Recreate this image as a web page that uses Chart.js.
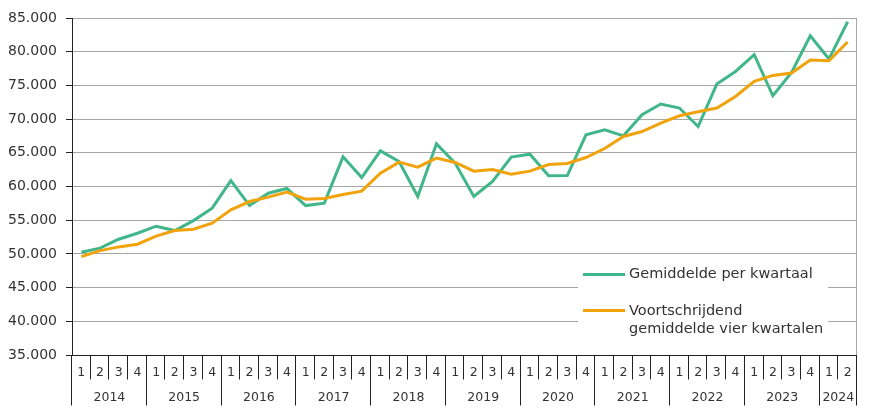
<!DOCTYPE html>
<html>
<head>
<meta charset="utf-8">
<script src="https://cdn.jsdelivr.net/npm/chart.js@4/dist/chart.umd.min.js"></script>
<style>
html,body{margin:0;padding:0;background:#fff;}
#wrap{width:886px;height:413px;position:relative;}
</style>
</head>
<body>
<div id="wrap"><canvas id="c" width="886" height="413"></canvas></div>
<script>
const years = ['2014','2015','2016','2017','2018','2019','2020','2021','2022','2023','2024'];
const quarters = ['1','2','3','4','1','2','3','4','1','2','3','4','1','2','3','4','1','2','3','4','1','2','3','4','1','2','3','4','1','2','3','4','1','2','3','4','1','2','3','4','1','2'];
const categories = quarters.map((q, i) => years[Math.floor(i / 4)] + ' Q' + q);
const gemiddeldePerKwartaal = [50250,50850,52180,53070,54110,53460,54940,56790,60880,57170,59010,59700,57170,57530,64400,61330,65290,63700,58510,66330,63470,58510,60740,64360,64800,61580,61630,67670,68410,67520,70640,72230,71640,68900,75200,77070,79550,73460,76920,82370,78910,84450];
const voortschrijdendGemiddelde = [49600,50490,51040,51440,52630,53460,53670,54560,56530,57770,58420,59160,58120,58220,58800,59310,61980,63620,62870,64210,63560,62280,62530,61830,62280,63260,63410,64300,65640,67420,68160,69410,70490,71090,71640,73360,75590,76480,76830,78760,78660,81440];
const yTicks = [35000,40000,45000,50000,55000,60000,65000,70000,75000,80000,85000];
const legendLabels = ['Gemiddelde per kwartaal', ['Voortschrijdend', 'gemiddelde vier kwartalen']];

const GREEN = '#41b68a';
const ORANGE = '#f0a30a';
const FONT = '"DejaVu Sans", Verdana, sans-serif';

const customDraw = {
  id: 'customDraw',
  afterDatasetsDraw(chart) {
    const ctx = chart.ctx;
    const xs = chart.scales.x;
    const area = chart.chartArea;
    ctx.save();
    // right border
    ctx.strokeStyle = '#a6a6a6';
    ctx.lineWidth = 1;
    ctx.beginPath();
    ctx.moveTo(Math.round(area.right) - 0.5, area.top);
    ctx.lineTo(Math.round(area.right) - 0.5, area.bottom);
    ctx.stroke();

    // x axis line
    const yb = Math.round(area.bottom) + 0.5;
    ctx.strokeStyle = '#222';
    ctx.beginPath();
    ctx.moveTo(area.left, yb);
    ctx.lineTo(area.right, yb);
    ctx.stroke();

    const n = categories.length;
    const step = (xs.getPixelForValue(1) - xs.getPixelForValue(0));
    ctx.fillStyle = '#333';
    ctx.font = '12.5px ' + FONT;
    ctx.textAlign = 'center';
    ctx.textBaseline = 'middle';
    for (let i = 0; i <= n; i++) {
      const x = Math.round(xs.getPixelForValue(0) - step / 2 + i * step) - 0.5;
      const isYear = (i % 4 === 0) || i === n;
      ctx.beginPath();
      ctx.moveTo(x, yb);
      ctx.lineTo(x, isYear ? yb + 50 : yb + 24);
      ctx.stroke();
    }
    for (let i = 0; i < n; i++) {
      ctx.fillText(quarters[i], xs.getPixelForValue(i), yb + 17);
    }
    for (let y = 0; y < years.length; y++) {
      const first = y * 4;
      const last = Math.min(n - 1, y * 4 + 3);
      const cx = (xs.getPixelForValue(first) + xs.getPixelForValue(last)) / 2;
      ctx.fillText(years[y], cx, yb + 42);
    }

    // legend
    const lx = 578, ly = 262;
    ctx.fillStyle = '#fff';
    ctx.fillRect(lx, ly, 250, 80);
    ctx.lineWidth = 3;
    ctx.strokeStyle = GREEN;
    ctx.beginPath(); ctx.moveTo(583, 274.5); ctx.lineTo(625, 274.5); ctx.stroke();
    ctx.strokeStyle = ORANGE;
    ctx.beginPath(); ctx.moveTo(583, 310.5); ctx.lineTo(625, 310.5); ctx.stroke();
    ctx.fillStyle = '#333';
    ctx.font = '14.5px ' + FONT;
    ctx.textAlign = 'left';
    ctx.textBaseline = 'middle';
    ctx.fillText(legendLabels[0], 629, 274);
    ctx.fillText(legendLabels[1][0], 629, 311);
    ctx.fillText(legendLabels[1][1], 629, 329);
    ctx.restore();
  }
};

new Chart(document.getElementById('c'), {
  type: 'line',
  data: {
    labels: categories,
    datasets: [
      { label: 'Voortschrijdend gemiddelde vier kwartalen', data: voortschrijdendGemiddelde, borderColor: ORANGE, backgroundColor: ORANGE, borderWidth: 3, pointRadius: 0, tension: 0 },
      { label: 'Gemiddelde per kwartaal', data: gemiddeldePerKwartaal, borderColor: GREEN, backgroundColor: GREEN, borderWidth: 3, pointRadius: 0, tension: 0 }
    ]
  },
  options: {
    responsive: false,
    animation: false,
    devicePixelRatio: 1,
    layout: { padding: { top: 18, right: 29, left: 0, bottom: 0 } },
    plugins: { legend: { display: false }, tooltip: { enabled: false } },
    scales: {
      x: {
        type: 'category',
        offset: true,
        grid: { display: false },
        border: { display: false },
        ticks: { display: false },
        afterFit(s) { s.height = 58; }
      },
      y: {
        min: 35000,
        max: 85000,
        afterBuildTicks(s) { s.ticks = yTicks.map(v => ({ value: v })); },
        grid: { color: '#a6a6a6', lineWidth: 1, tickLength: 6, tickColor: '#222', drawOnChartArea: true },
        border: { display: true, color: '#222', width: 1 },
        ticks: {
          color: '#333',
          padding: 9,
          font: { family: FONT, size: 14 },
          callback: v => v.toLocaleString('nl-NL')
        },
        afterFit(s) { s.width = 72; }
      }
    }
  },
  plugins: [customDraw]
});
</script>
</body>
</html>
